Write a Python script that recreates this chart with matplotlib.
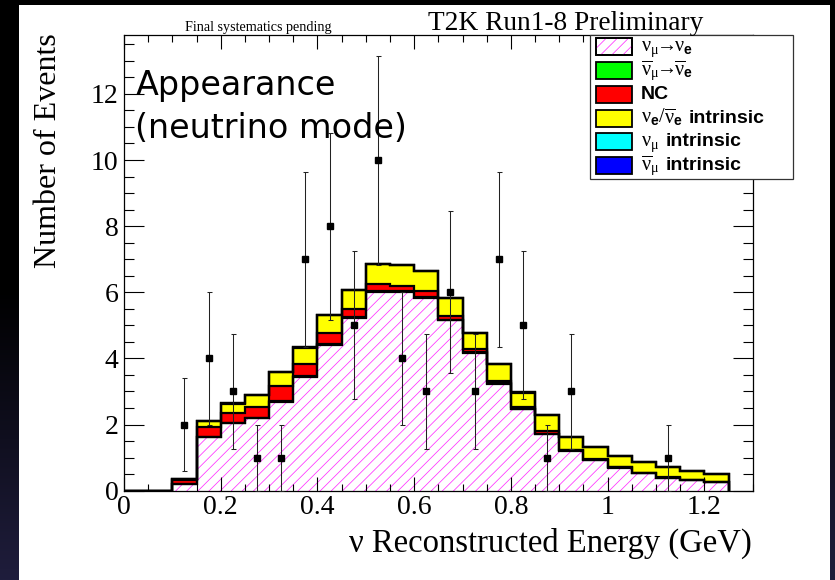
import numpy as np
import matplotlib
matplotlib.use("Agg")
import matplotlib.pyplot as plt
from matplotlib.patches import Rectangle
from matplotlib.colors import LinearSegmentedColormap
from matplotlib.ticker import MultipleLocator

plt.rcParams["font.family"] = ["Liberation Serif", "DejaVu Serif"]
plt.rcParams["mathtext.fontset"] = "custom"
plt.rcParams["mathtext.rm"] = "Liberation Serif"
plt.rcParams["mathtext.it"] = "Liberation Serif:italic"
plt.rcParams["mathtext.bf"] = "Liberation Sans:bold"
plt.rcParams["hatch.linewidth"] = 0.55

# Reconstructed-energy binning (GeV)
bin_edges = np.linspace(0.0, 1.25, 26)

# Expected events per bin for each stacked component (bottom to top)
numu_to_nue = [0, 0, 0.21, 1.61, 2.04, 2.19, 2.69, 3.44, 4.42, 5.21, 6.02, 6.01, 5.84,
               5.15, 4.17, 3.24, 2.46, 1.71, 1.21, 0.93, 0.70, 0.53, 0.39, 0.31, 0.26]
numubar_to_nuebar = [0, 0, 0.00, 0.01, 0.02, 0.02, 0.02, 0.02, 0.03, 0.03, 0.03, 0.03, 0.03,
                     0.02, 0.02, 0.02, 0.02, 0.01, 0.01, 0.01, 0.01, 0.00, 0.00, 0.00, 0.00]
nc = [0, 0, 0.11, 0.30, 0.30, 0.33, 0.45, 0.38, 0.31, 0.24, 0.21, 0.14, 0.17,
      0.12, 0.09, 0.07, 0.06, 0.09, 0.02, 0.01, 0.01, 0.01, 0.01, 0.01, 0.01]
nue_intrinsic = [0, 0, 0.02, 0.18, 0.27, 0.35, 0.43, 0.49, 0.55, 0.59, 0.60, 0.64, 0.60,
                 0.54, 0.49, 0.49, 0.42, 0.47, 0.39, 0.37, 0.32, 0.33, 0.31, 0.28, 0.24]
numu_intrinsic = [0, 0, 0.00, 0.01, 0.01, 0.01, 0.01, 0.01, 0.01, 0.01, 0.01, 0.01, 0.01,
                  0.01, 0.01, 0.01, 0.01, 0.00, 0.00, 0.00, 0.00, 0.00, 0.00, 0.00, 0.00]
numubar_intrinsic = [0, 0, 0.00, 0.00, 0.00, 0.00, 0.00, 0.00, 0.00, 0.00, 0.00, 0.00, 0.00,
                     0.00, 0.00, 0.00, 0.00, 0.00, 0.00, 0.00, 0.00, 0.00, 0.00, 0.00, 0.00]

# Observed events per bin and their statistical errors
observed = [0, 0, 2, 4, 3, 1, 1, 7, 8, 5, 10, 4, 3, 6, 3, 7, 5, 1, 3, 0, 0, 0, 1, 0, 0]
observed_err = [0, 0, 1.41, 2.00, 1.73, 1.00, 1.00, 2.65, 2.83, 2.24, 3.16, 2.00, 1.73,
                2.45, 1.73, 2.65, 2.24, 1.00, 1.73, 0, 0, 0, 1.00, 0, 0]

x_ticks = [0, 0.2, 0.4, 0.6, 0.8, 1.0, 1.2]
x_tick_labels = ["0", "0.2", "0.4", "0.6", "0.8", "1", "1.2"]
y_ticks = [0, 2, 4, 6, 8, 10, 12]

# Legend entries: symbol part (math) and word part
legend_symbols = [
    r"$\mathrm{ν}_{\mathrm{μ}}\!\!\rightarrow\!\!\mathrm{ν}_{\mathbf{e}}$",
    r"$\overline{\mathrm{ν}}_{\mathrm{μ}}\!\!\rightarrow\!\!\overline{\mathrm{ν}}_{\mathbf{e}}$",
    "",
    r"$\mathrm{ν}_{\mathbf{e}}/\overline{\mathrm{ν}}_{\mathbf{e}}$",
    r"$\mathrm{ν}_{\mathrm{μ}}$",
    r"$\overline{\mathrm{ν}}_{\mathrm{μ}}$",
]
legend_words = ["", "", "NC", "intrinsic", "intrinsic", "intrinsic"]
layer_colors = ["white", "#00ff00", "#ff0000", "#ffff00", "#00ffff", "#0000ff"]
hatch_color = "#ff30ff"

W, H = 835, 580
fig = plt.figure(figsize=(W / 100, H / 100), dpi=100, facecolor="black")

# Slide background: dark gradient with a white panel
bg = fig.add_axes([0, 0, 1, 1], zorder=-5)
cmap = LinearSegmentedColormap.from_list("slide", ["#000000", "#000000", "#1f1d3c"])
bg.imshow(np.linspace(0, 1, 256).reshape(-1, 1), cmap=cmap, extent=[0, W, H, 0],
          aspect="auto")
bg.add_patch(Rectangle((19, 5), 811, 575, facecolor="white", edgecolor="none"))
bg.set_xlim(0, W)
bg.set_ylim(H, 0)
bg.axis("off")

# Main histogram axes
ax = fig.add_axes([124 / W, 1 - 490.7 / H, (752.7 - 124) / W, (490.7 - 35) / H])
ax.set_xlim(0, 1.3)
ax.set_ylim(0, 13.78)

layers = np.array([numu_to_nue, numubar_to_nuebar, nc, nue_intrinsic,
                   numu_intrinsic, numubar_intrinsic], dtype=float)
cum = np.cumsum(layers, axis=0)
lower = np.vstack([np.zeros(layers.shape[1]), cum[:-1]])

for i, col in enumerate(layer_colors):
    ax.stairs(cum[i], bin_edges, baseline=lower[i], fill=True, facecolor=col,
              linewidth=0, zorder=1)
    if i == 0:
        ax.stairs(cum[i], bin_edges, baseline=lower[i], fill=True, facecolor="none",
                  edgecolor=hatch_color, linewidth=0, hatch="///", zorder=1.1)
for i in range(len(layer_colors)):
    ax.stairs(cum[i], bin_edges, baseline=0, color="black", linewidth=1.6,
              zorder=2, joinstyle="miter")

centers = 0.5 * (bin_edges[:-1] + bin_edges[1:])
obs = np.array(observed, dtype=float)
err = np.array(observed_err, dtype=float)
has = obs > 0
ax.errorbar(centers[has], obs[has], yerr=err[has], fmt="s", ms=4.8, mfc="black",
            mec="black", ecolor="#222222", elinewidth=0.75, capsize=1.8, capthick=0.75,
            zorder=3)

ax.set_xticks(x_ticks, x_tick_labels)
ax.set_yticks(y_ticks)
ax.xaxis.set_minor_locator(MultipleLocator(0.05))
ax.yaxis.set_minor_locator(MultipleLocator(0.5))
ax.tick_params(axis="both", which="both", direction="in", top=True, right=True,
               width=0.8, colors="black", labelsize=20)
ax.tick_params(axis="x", which="major", length=9.9, pad=3)
ax.tick_params(axis="x", which="minor", length=4.9)
ax.tick_params(axis="y", which="major", length=14.4, pad=4)
ax.tick_params(axis="y", which="minor", length=7.2)
for sp in ax.spines.values():
    sp.set_linewidth(0.9)
    sp.set_color("black")

# Overlay for labels, titles and legend in pixel coordinates
ov = fig.add_axes([0, 0, 1, 1], zorder=10)
ov.set_xlim(0, W)
ov.set_ylim(H, 0)
ov.axis("off")

ov.text(258.5, 30.5, "Final systematics pending", ha="center", va="baseline", fontsize=10.2)
ov.text(565.5, 30, "T2K Run1-8 Preliminary", ha="center", va="baseline", fontsize=19.7)
ov.text(49, 33, "Number of Events", rotation=90, ha="center", va="top", fontsize=23)
ov.text(752, 551.5, "ν Reconstructed Energy (GeV)", ha="right", va="baseline", fontsize=23.5)

ov.text(136, 95, "Appearance", ha="left", va="baseline", fontsize=24,
        family="DejaVu Sans")
ov.text(135, 138.5, "(neutrino mode)", ha="left", va="baseline", fontsize=24,
        family="DejaVu Sans")

# Legend box
renderer = fig.canvas.get_renderer()
ov.add_patch(Rectangle((590, 35), 203, 144, facecolor="white", edgecolor="#333333",
                       linewidth=0.9))
for i, (sym, word, col) in enumerate(zip(legend_symbols, legend_words, layer_colors)):
    cy = 46.7 + i * 23.8
    ov.add_patch(Rectangle((596, cy - 8.5), 36, 17, facecolor=col, edgecolor="black",
                           linewidth=1.3))
    if i == 0:
        ov.add_patch(Rectangle((596, cy - 8.5), 36, 17, facecolor="none",
                               edgecolor=hatch_color, linewidth=0, hatch="///"))
        ov.add_patch(Rectangle((596, cy - 8.5), 36, 17, facecolor="none",
                               edgecolor="black", linewidth=1.3))
    x_next = 641
    if sym:
        t = ov.text(x_next, cy + 4.5, sym, ha="left", va="baseline", fontsize=14.5)
        x_next = t.get_window_extent(renderer).x1 + 6
    if word:
        ov.text(x_next, cy + 4.5, word, ha="left", va="baseline", fontsize=14,
                family="Liberation Sans", fontweight="bold")

fig.savefig("out.png", dpi=100, facecolor=fig.get_facecolor())
